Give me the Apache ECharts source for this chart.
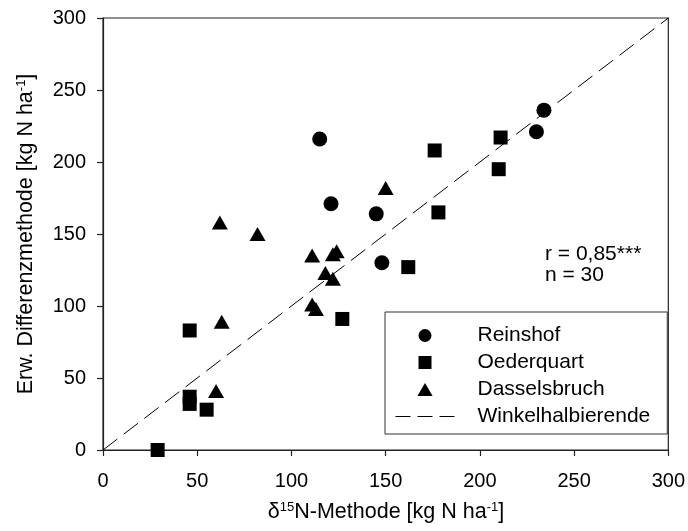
<!DOCTYPE html>
<html>
<head>
<meta charset="utf-8">
<script src="https://cdn.jsdelivr.net/npm/echarts@6/dist/echarts.min.js"></script>
<style>html,body{margin:0;padding:0;background:#fff}#c{width:688px;height:531px}</style>
</head>
<body>
<div id="c"></div>
<script>
var seriesNames = ['Reinshof', 'Oederquart', 'Dasselsbruch', 'Winkelhalbierende'];
var reinshof = [[115, 216], [234, 236], [230, 221], [121, 171], [145, 164], [148, 130]];
var oederquart = [[211, 217], [176, 208], [210, 195], [178, 165], [162, 127], [127, 91], [46, 83], [46, 37], [46, 32], [55, 28], [29, 0]];
var dasselsbruch = [[62, 158], [82, 150], [111, 135], [122, 136], [124, 138], [118, 123], [122, 119], [150, 182], [63, 89], [60, 41], [111, 101], [113, 98]];
var diagonal = [[0, 0], [300, 300]];
var xTicks = [0, 50, 100, 150, 200, 250, 300];
var yTicks = [0, 50, 100, 150, 200, 250, 300];
var statText = ['r = 0,85***', 'n = 30'];

var FONT = 'Liberation Sans, Arial, sans-serif';
var FS = 20;
var chart = echarts.init(document.getElementById('c'), null, {renderer: 'canvas'});
var axisCommon = {
  min: xTicks[0], max: xTicks[xTicks.length - 1], interval: xTicks[1] - xTicks[0],
  axisLine: {show: true, onZero: false, lineStyle: {color: '#222', width: 1.2}},
  axisTick: {show: true, inside: false, length: 6, lineStyle: {color: '#222', width: 1.2}},
  splitLine: {show: false},
  axisLabel: {color: '#000', fontSize: FS, fontFamily: FONT}
};
chart.setOption({
  animation: false,
  backgroundColor: '#fff',
  grid: {left: 103, right: 19, top: 18, bottom: 81, show: true, borderColor: '#222', borderWidth: 1.2, containLabel: false},
  xAxis: Object.assign({type: 'value'}, axisCommon, {axisLabel: Object.assign({}, axisCommon.axisLabel, {margin: 21})}),
  yAxis: Object.assign({type: 'value'}, axisCommon, {min: yTicks[0], max: yTicks[yTicks.length - 1], axisLabel: Object.assign({}, axisCommon.axisLabel, {margin: 17})}),
  legend: {
    orient: 'vertical',
    left: 385, top: 312,
    padding: [13, 17, 7, 10],
    backgroundColor: '#fff',
    borderColor: '#333', borderWidth: 1,
    borderRadius: 0,
    itemWidth: 59, itemHeight: 13, itemGap: 6,
    textStyle: {color: '#000', fontSize: 21, fontFamily: FONT, lineHeight: 20, padding: [0, 0, 0, 18]},
    data: [
      {name: seriesNames[0], icon: 'circle', itemStyle: {color: '#000', opacity: 1}},
      {name: seriesNames[1], icon: 'path://M0,0L12,0L12,12L0,12Z', itemStyle: {color: '#000', opacity: 1}},
      {name: seriesNames[2], icon: 'path://M7,0L14,12L0,12Z', itemStyle: {color: '#000', opacity: 1}},
      {name: seriesNames[3], itemStyle: {color: '#000', opacity: 0}, lineStyle: {color: '#000', width: 1, opacity: 1, type: [15, 7]}}
    ]
  },
  graphic: [
    {type: 'text', left: 545, top: 244, style: {text: statText[0], fontSize: 21, fontFamily: FONT, fill: '#000'}, z: 10},
    {type: 'text', left: 545, top: 265, style: {text: statText[1], fontSize: 21, fontFamily: FONT, fill: '#000'}, z: 10},
    {type: 'text', x: 386, y: 512, style: {
      text: '{n|δ}{s|15}{n|N-Methode [kg N ha}{s|-1}{n|]}',
      align: 'center', verticalAlign: 'middle',
      rich: {n: {fontSize: 21.5, fontFamily: FONT, fill: '#000', verticalAlign: 'bottom'}, s: {fontSize: 13, fontFamily: FONT, fill: '#000', verticalAlign: 'top'}}
    }},
    {type: 'text', x: 26, y: 234, rotation: Math.PI / 2, style: {
      text: '{n|Erw. Differenzmethode [kg N ha}{s|-1}{n|]}',
      align: 'center', verticalAlign: 'middle',
      rich: {n: {fontSize: 21.5, fontFamily: FONT, fill: '#000', verticalAlign: 'bottom'}, s: {fontSize: 13, fontFamily: FONT, fill: '#000', verticalAlign: 'top'}}
    }}
  ],
  series: [
    {name: seriesNames[0], type: 'scatter', symbol: 'circle', symbolSize: 15, itemStyle: {color: '#000', opacity: 1}, data: reinshof, z: 3},
    {name: seriesNames[1], type: 'scatter', symbol: 'rect', symbolSize: 14, itemStyle: {color: '#000', opacity: 1}, data: oederquart, z: 3},
    {name: seriesNames[2], type: 'scatter', symbol: 'triangle', symbolSize: [16, 14], itemStyle: {color: '#000', opacity: 1}, data: dasselsbruch, z: 3},
    {name: seriesNames[3], type: 'line', symbol: 'none', data: diagonal, lineStyle: {color: '#000', width: 1, type: [18, 8]}, itemStyle: {color: '#000'}, z: 2}
  ]
});
</script>
</body>
</html>
